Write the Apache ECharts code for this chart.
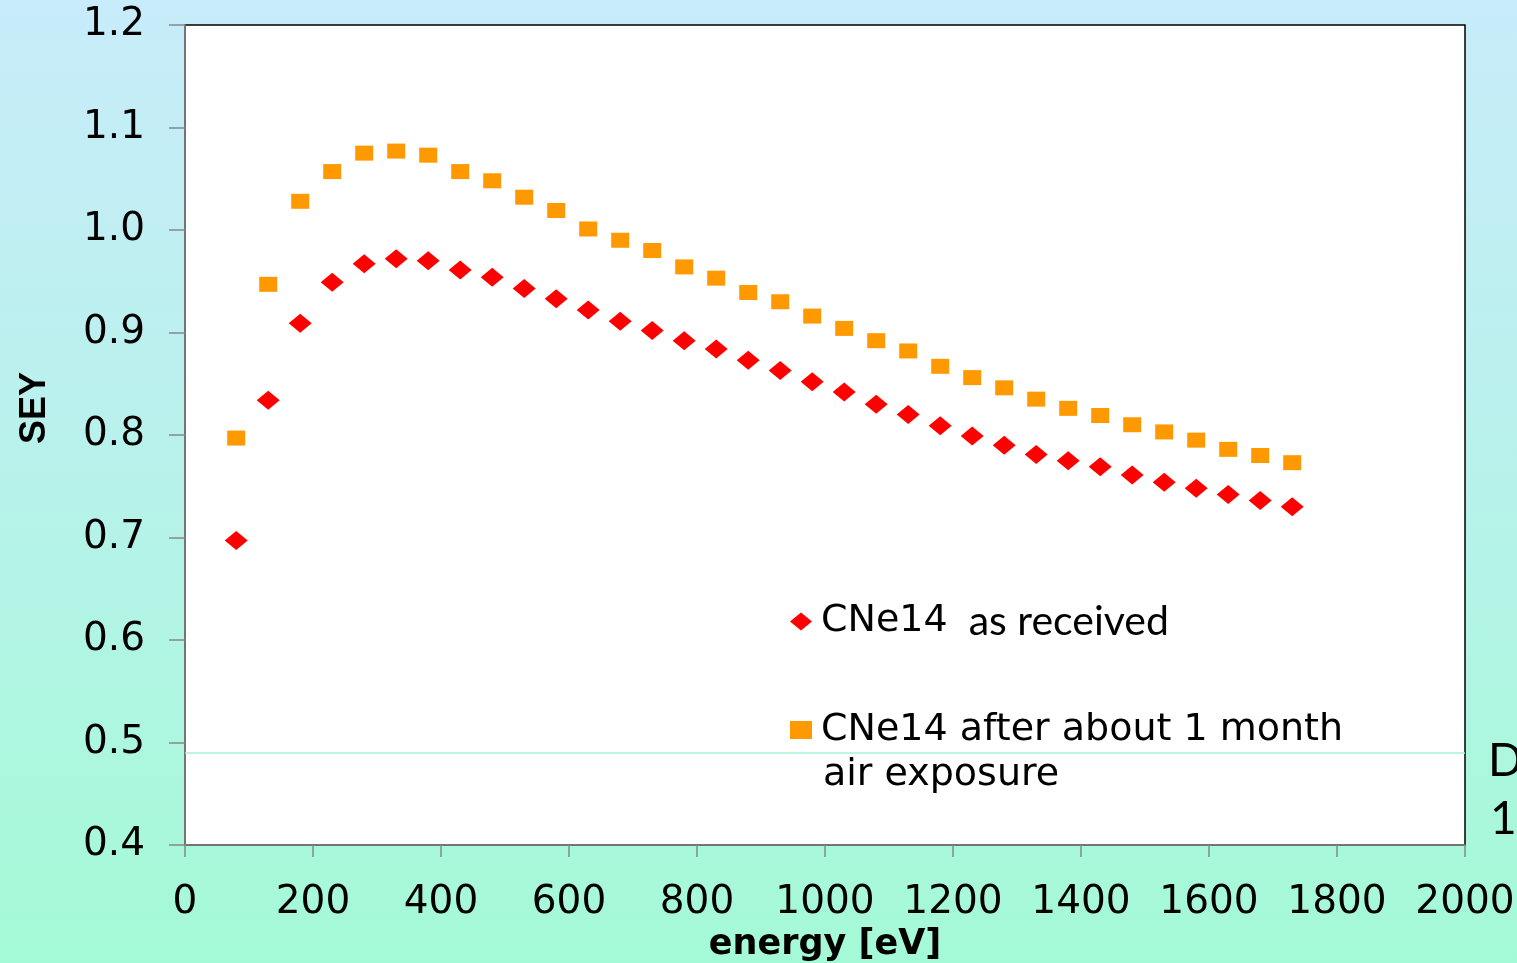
<!DOCTYPE html>
<html>
<head>
<meta charset="utf-8">
<script src="https://cdn.jsdelivr.net/npm/echarts@6/dist/echarts.min.js"></script>
<style>
html,body{margin:0;padding:0;width:1517px;height:963px;overflow:hidden;
background:linear-gradient(to bottom,#c8ecfa 0%,#b9f1ec 45%,#a4fad6 100%);}
#c{width:1517px;height:963px;}
</style>
</head>
<body>
<div id="c"></div>
<script>
const energy = [80,130,180,230,280,330,380,430,480,530,580,630,680,730,780,830,880,930,980,1030,1080,1130,1180,1230,1280,1330,1380,1430,1480,1530,1580,1630,1680,1730];
const seyAsReceived = [0.697,0.834,0.909,0.949,0.967,0.972,0.970,0.961,0.954,0.943,0.933,0.922,0.911,0.902,0.892,0.884,0.873,0.863,0.852,0.842,0.830,0.820,0.809,0.799,0.790,0.781,0.775,0.769,0.761,0.754,0.748,0.742,0.736,0.730];
const seyAfterAir = [0.797,0.947,1.028,1.057,1.075,1.077,1.073,1.057,1.048,1.032,1.019,1.001,0.990,0.980,0.964,0.953,0.939,0.930,0.916,0.904,0.892,0.882,0.867,0.856,0.846,0.835,0.826,0.819,0.810,0.803,0.795,0.786,0.780,0.773];
const seriesNames = ['CNe14  as received','CNe14 after about 1 month air exposure'];
const xTitle = 'energy [eV]';
const yTitle = 'SEY';

const chart = echarts.init(document.getElementById('c'), null, {renderer:'canvas'});
const pair = (xs, ys) => xs.map((x,i)=>[x, ys[i]]);
const tickFont = {fontFamily:'DejaVu Sans', fontSize:39, color:'#000'};

chart.setOption({
  backgroundColor:'transparent',
  animation:false,
  grid:{left:185, right:52, top:25, bottom:118, containLabel:false, outerBoundsMode:'none',
        show:true, backgroundColor:'#fff', borderColor:'#000', borderWidth:1.5},
  xAxis:{
    type:'value', min:0, max:2000, interval:200,
    name:xTitle, nameLocation:'middle', nameGap:82,
    nameTextStyle:{fontFamily:'DejaVu Sans', fontWeight:'bold', fontSize:35, color:'#000'},
    axisLine:{show:true, onZero:false, lineStyle:{color:'#888', width:1.5}},
    axisTick:{show:true, length:12, lineStyle:{color:'#888', width:1.5}},
    axisLabel:Object.assign({margin:38, formatter:v=>String(v)}, tickFont),
    splitLine:{show:false}
  },
  yAxis:{
    type:'value', min:0.4, max:1.2, interval:0.1,
    name:yTitle, nameLocation:'middle', nameGap:132, nameRotate:90,
    nameTextStyle:{fontFamily:'Liberation Sans', fontWeight:'bold', fontSize:36, color:'#000', padding:[0,0,0,54]},
    axisLine:{show:true, onZero:false, lineStyle:{color:'#888', width:1.5}},
    axisTick:{show:true, length:16, lineStyle:{color:'#888', width:1.5}},
    axisLabel:Object.assign({margin:40, formatter:v=>v.toFixed(1)}, tickFont),
    splitLine:{show:false}
  },
  legend:{
    orient:'vertical', left:785, top:596, itemGap:69,
    itemWidth:22, itemHeight:18,
    data:[{name:seriesNames[0], icon:'diamond'},{name:seriesNames[1], icon:'rect'}],
    formatter:function(n){
      if(n===seriesNames[0]) return '{a|CNe14}{b|  as received}';
      return '{a|CNe14 after about 1 month}';
    },
    textStyle:{
      padding:[0,0,0,4],
      rich:{
        a:{fontFamily:'DejaVu Sans', fontSize:38, color:'#000'},
        b:{fontFamily:'Lato', fontSize:41, color:'#000'}
      }
    }
  },
  graphic:[
    {type:'text', left:823, top:756, style:{text:'air exposure', font:'38px "DejaVu Sans"', fill:'#000'}},
    {type:'text', left:1488, top:738, style:{text:'D', font:'46px Lato', fill:'#000'}},
    {type:'text', left:1490, top:796, style:{text:'1', font:'46px Lato', fill:'#000'}}
  ],
  series:[
    {name:seriesNames[0], type:'scatter', symbol:'diamond', symbolSize:[23,19],
     itemStyle:{color:'#ff0000', opacity:1}, data:pair(energy, seyAsReceived), z:3},
    {name:seriesNames[1], type:'scatter', symbol:'rect', symbolSize:[18,15],
     itemStyle:{color:'#ff9900', opacity:1}, data:pair(energy, seyAfterAir), z:2,
     markLine:{silent:true, symbol:'none', label:{show:false},
       lineStyle:{color:'#a6f2d8', width:1.5, type:'solid'},
       data:[{yAxis:0.486}]}}
  ]
});
</script>
</body>
</html>
